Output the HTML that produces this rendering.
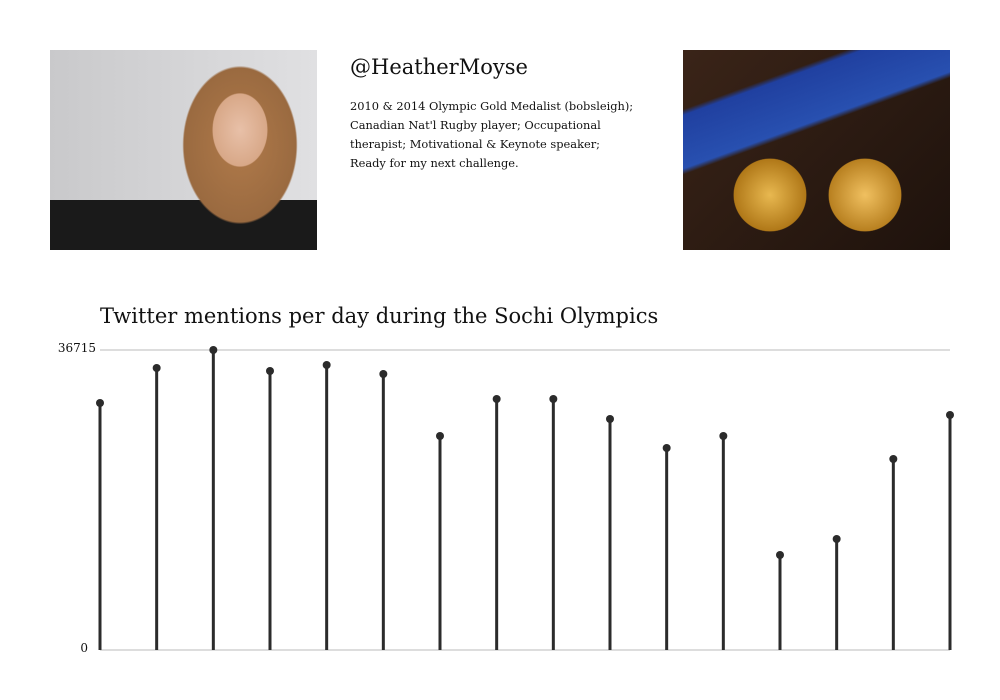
<!DOCTYPE html>
<html><head><meta charset="utf-8"><style>
body{margin:0;width:1000px;height:700px;background:#fff;position:relative;overflow:hidden;font-family:"DejaVu Serif","Liberation Serif",serif;color:#111}
.photo{position:absolute;top:50px;width:267px;height:200px}
</style></head><body>
<div class="photo" style="left:50px;background:radial-gradient(ellipse 45px 60px at 190px 80px,#e8c0a8 0%,#d8a888 60%,transparent 62%),radial-gradient(ellipse 80px 110px at 190px 95px,#b07a4a 0%,#9a6a40 70%,transparent 72%),linear-gradient(180deg,transparent 75%,#1a1a1a 75%),linear-gradient(90deg,#c9c9cb,#e0e0e2)"></div>
<div style="position:absolute;left:350px;top:55px;font-size:21px">@HeatherMoyse</div>
<div style="position:absolute;left:350px;top:97px;width:288px;font-size:11.4px;line-height:19px">2010 &amp; 2014 Olympic Gold Medalist (bobsleigh); Canadian Nat'l Rugby player; Occupational therapist; Motivational &amp; Keynote speaker; Ready for my next challenge.</div>
<div class="photo" style="left:683px;background:radial-gradient(circle 40px at 87px 145px,#e8b850,#b07818 90%,transparent 92%),radial-gradient(circle 40px at 182px 145px,#f0c060,#b88020 90%,transparent 92%),linear-gradient(160deg,transparent 20%,#2040a0 22%,#2850b0 40%,transparent 42%),linear-gradient(135deg,#3a2418,#1e120c)"></div>
<div style="position:absolute;left:100px;top:304px;font-size:21px">Twitter mentions per day during the Sochi Olympics</div>
<svg id="chart" width="1000" height="700" style="position:absolute;left:0;top:0"></svg>
<script>
const days=["Feb 7","Feb 8","Feb 9","Feb 10","Feb 11","Feb 12","Feb 13","Feb 14","Feb 15","Feb 16","Feb 17","Feb 18","Feb 19","Feb 20","Feb 21","Feb 22"];
const mentions=[30228,34512,36715,34145,34879,33778,26190,30718,30718,28271,24721,26190,11626,13585,23375,28760];
const yTicks=[0,36715];
const svg=document.getElementById('chart');
const NS='http://www.w3.org/2000/svg';
const x0=100,x1=950,yBase=650,yTop=350,yMax=36715;
const xs=i=>x0+i*(x1-x0)/(days.length-1);
const ys=v=>yBase-(v/yMax)*(yBase-yTop);
function mk(t,a){const e=document.createElementNS(NS,t);for(const k in a)e.setAttribute(k,a[k]);svg.appendChild(e);return e;}
yTicks.forEach(t=>{
 const l=mk('line',{x1:100,x2:950,y1:ys(t),y2:ys(t),stroke:'#bbb','stroke-width':1});
 
 
 const tx=mk('text',{x:t===0?88:96,y:ys(t)+2,'text-anchor':'end','font-size':12,'font-family':'DejaVu Serif, serif',fill:'#111'});
 tx.textContent=t;
 
 
});
mentions.forEach((v,i)=>{
 const s=mk('line',{x1:xs(i),x2:xs(i),y1:yBase,y2:ys(v),stroke:'#2b2b2b','stroke-width':3});
 
 
 const c=mk('circle',{cx:xs(i),cy:ys(v),r:4,fill:'#2b2b2b'});
 
 
 const tt=document.createElementNS(NS,'title');tt.textContent=days[i]+': '+v;c.appendChild(tt);
});
</script>
</body></html>
